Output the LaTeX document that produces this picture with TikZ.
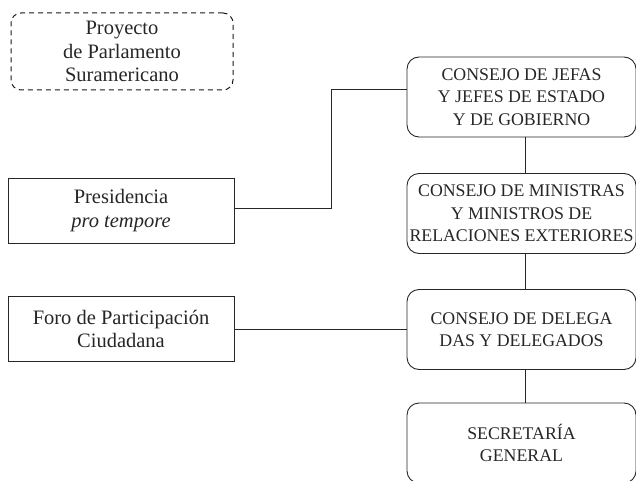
\documentclass[tikz,border=0pt]{standalone}
\usepackage{fontspec}
\setmainfont{Liberation Serif}
\begin{document}
\begin{tikzpicture}[x=1pt,y=-1pt,
  every node/.style={text=black!85, align=center, inner sep=0pt},
  ltext/.style={font=\fontsize{20.5}{23.5}\selectfont},
  rtext/.style={font=\fontsize{17.8}{22.5}\selectfont},
  sqbox/.style={ltext, draw=black!85, line width=0.9pt, minimum width=226pt, minimum height=65pt},
  rbox/.style={rtext, draw=black!85, line width=0.9pt, rounded corners=12pt, minimum width=229pt, minimum height=80pt},
  dbox/.style={ltext, draw=black!90, line width=1pt, dash pattern=on 5pt off 4pt, rounded corners=10pt, minimum width=222pt, minimum height=77pt},
  link/.style={draw=black!85, line width=0.9pt}]
\useasboundingbox (0,0) rectangle (636,481);
\clip (0,0) rectangle (636,481);
\node[dbox] (proy) at (122,51.5) {Proyecto\\de Parlamento\\Suramericano};
\node[sqbox] (pres) at (121,210.5) {Presidencia\\\textit{pro tempore}};
\node[sqbox] (foro) at (121,329) {Foro de Participación\\Ciudadana};
\node[rbox] (jefas) at (521.5,97) {CONSEJO DE JEFAS\\Y JEFES DE ESTADO\\Y DE GOBIERNO};
\node[rbox] (mini) at (521.5,213.5) {CONSEJO DE MINISTRAS\\Y MINISTROS DE\\RELACIONES EXTERIORES};
\node[rbox] (dele) at (521.5,329.5) {CONSEJO DE DELEGA\\DAS Y DELEGADOS};
\node[rbox] (secr) at (521.5,443) {SECRETARÍA\\GENERAL};
\coordinate (bend1) at (331,208);
\coordinate (bend2) at (331,89);
\draw[link] (pres.east |- bend1) -- (bend1) -- (bend2) -- (bend2 -| jefas.west);
\draw[link] (foro.east) -- (foro.east -| dele.west);
\draw[link] (jefas.south -| 525,0) -- (mini.north -| 525,0);
\draw[link] (mini.south -| 525,0) -- (dele.north -| 525,0);
\draw[link] (dele.south -| 525,0) -- (secr.north -| 525,0);
\end{tikzpicture}
\end{document}
